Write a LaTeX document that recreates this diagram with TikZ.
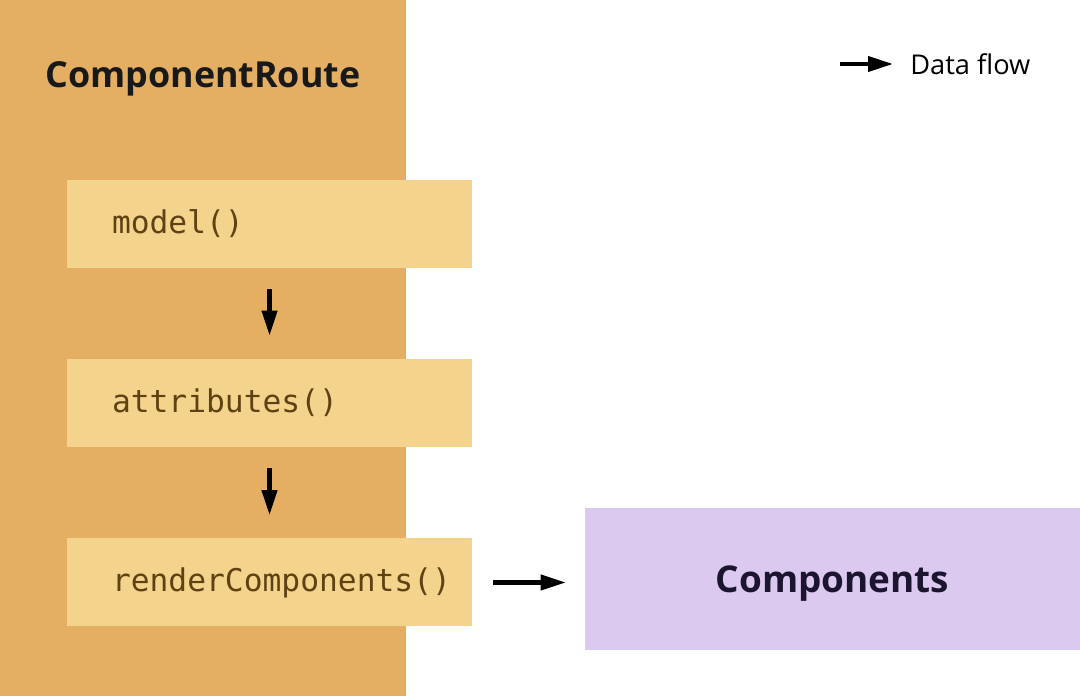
\documentclass[tikz,border=0pt]{standalone}
\usepackage{fontspec}
\setmainfont{Open Sans}
\setmonofont{DejaVu Sans Mono}
\usetikzlibrary{arrows.meta}

\definecolor{routebg}{HTML}{E4AF62}
\definecolor{hookbg}{HTML}{F4D38C}
\definecolor{hooktext}{HTML}{5E4213}
\definecolor{compbg}{HTML}{DCC9EF}
\definecolor{comptext}{HTML}{1C1530}

\tikzset{
  hook/.style={fill=hookbg,draw=none,minimum height=1.76cm,text width=6.3cm,
    inner xsep=0.9cm,align=left,font=\ttfamily\fontsize{17.8}{20}\selectfont,text=hooktext},
  flow/.style={-{Triangle[length=0.5cm,width=0.3cm]},line width=2.3pt,black}
}

\begin{document}
\begin{tikzpicture}

%BACKGROUND
\useasboundingbox (0,0) rectangle (21.6,13.92);
\fill[white] (0,0) rectangle (21.6,13.92);
\fill[routebg] (0,0) rectangle (8.12,13.92);
%BACKGROUND

\node[anchor=west,font=\fontsize{20.4}{24}\selectfont\bfseries,text=black!90,inner sep=0](route) at (0.9,12.34) {ComponentRoute};

\node[hook](model) at (5.39,9.44) {model()};
\node[hook](attrs) at (5.39,5.86) {attributes()};
\node[hook](render) at (5.39,2.27) {renderComponents()};

\node[fill=compbg,minimum width=9.9cm,minimum height=2.84cm,text depth=0pt,font=\fontsize{21}{25}\selectfont\bfseries,text=comptext](comps) at (16.65,2.34) {Components};

%LEGEND
\coordinate(l1) at (16.8,12.64);
\coordinate(l2) at (17.86,12.64);
\node[anchor=west,inner sep=0,font=\fontsize{15.5}{18}\selectfont](legend) at (18.2,12.64) {Data flow};
%LEGEND

\draw[flow] (l1) -- (l2);

\draw[flow,shorten <=0.42cm,shorten >=0.46cm] (model.south) -- (attrs.north);
\draw[flow,shorten <=0.42cm,shorten >=0.46cm] (attrs.south) -- (render.north);

\draw[flow,shorten <=0.42cm,shorten >=0.38cm] (render.east) -- (render.east -| comps.west);

\end{tikzpicture}
\end{document}
